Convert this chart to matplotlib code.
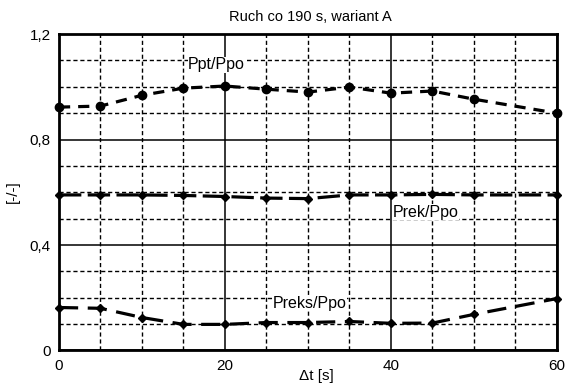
import matplotlib
matplotlib.use("Agg")
import matplotlib.pyplot as plt
from matplotlib.ticker import MultipleLocator, FixedLocator

plt.rcParams['font.family'] = ['Liberation Sans', 'DejaVu Sans']

# Data
t = [0, 5, 10, 15, 20, 25, 30, 35, 40, 45, 50, 60]
ppt_ppo = [0.923, 0.927, 0.968, 0.995, 1.003, 0.991, 0.980, 0.999, 0.976, 0.984, 0.953, 0.900]
prek_ppo = [0.590, 0.590, 0.590, 0.588, 0.584, 0.578, 0.576, 0.590, 0.590, 0.592, 0.590, 0.590]
preks_ppo = [0.163, 0.160, 0.125, 0.099, 0.099, 0.106, 0.106, 0.110, 0.103, 0.104, 0.137, 0.197]

x_ticks = [0, 20, 40, 60]
x_labels = ["0", "20", "40", "60"]
y_ticks = [0, 0.4, 0.8, 1.2]
y_labels = ["0", "0,4", "0,8", "1,2"]

title = "Ruch co 190 s, wariant A"
xlabel = "\u0394t [s]"
ylabel = "[-/-]"

fig = plt.figure(figsize=(5.65, 3.83), dpi=100)
ax = fig.add_axes([0.1044, 0.0849, 0.8814, 0.8261])

ax.set_xlim(0, 60)
ax.set_ylim(0, 1.2)

ax.xaxis.set_major_locator(FixedLocator(x_ticks))
ax.set_xticklabels(x_labels)
ax.yaxis.set_major_locator(FixedLocator(y_ticks))
ax.set_yticklabels(y_labels)
ax.xaxis.set_minor_locator(MultipleLocator(5))
ax.yaxis.set_minor_locator(MultipleLocator(0.1))

ax.grid(which='minor', color='black', linestyle=(0, (3, 2)), linewidth=1.0)
ax.grid(which='major', color='black', linestyle='-', linewidth=1.1)
ax.set_axisbelow(True)
ax.tick_params(which='both', length=0, labelsize=11, pad=6)

for s in ax.spines.values():
    s.set_linewidth(2.0)

ax.plot(t, ppt_ppo, color='black', linestyle=(0, (3.5, 2.5)), linewidth=2.3,
        marker='o', markersize=6, clip_on=False, zorder=3)
ax.plot(t, prek_ppo, color='black', linestyle=(0, (7, 2)), linewidth=2.3,
        marker='D', markersize=4, clip_on=False, zorder=3)
ax.plot(t, preks_ppo, color='black', linestyle=(0, (6, 3)), linewidth=2.3,
        marker='D', markersize=4, clip_on=False, zorder=3)

ax.text(19, 1.083, "Ppt/Ppo", ha='center', va='center', fontsize=11.5,
        bbox=dict(facecolor='white', edgecolor='none', pad=0.5))
ax.text(44.2, 0.525, "Prek/Ppo", ha='center', va='center', fontsize=11.5,
        bbox=dict(facecolor='white', edgecolor='none', pad=0.5))
ax.text(30.2, 0.18, "Preks/Ppo", ha='center', va='center', fontsize=11.5,
        bbox=dict(facecolor='white', edgecolor='none', pad=0.5))

fig.text(0.549, 0.955, title, ha='center', va='center', fontsize=10.5)
fig.text(0.56, 0.018, xlabel, ha='center', va='center', fontsize=11)
fig.text(0.022, 0.50, ylabel, ha='center', va='center', fontsize=11, rotation=90)

fig.savefig("out.png", dpi=100)
